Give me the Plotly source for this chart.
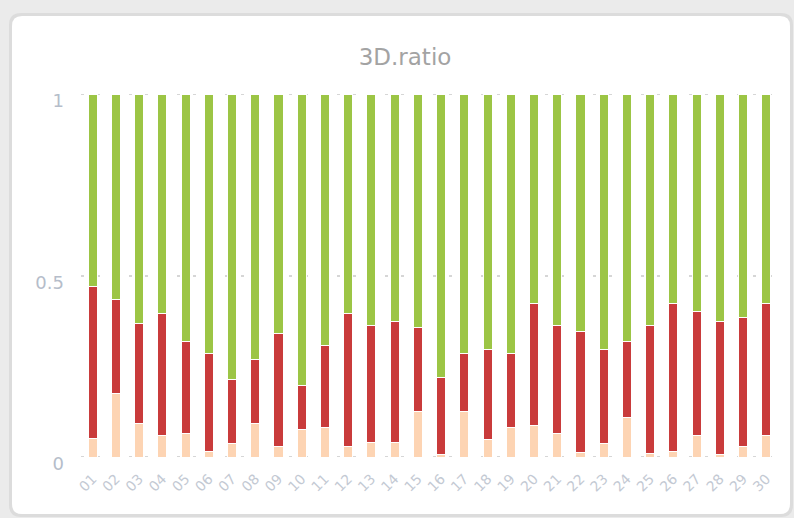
import plotly.graph_objects as go

# Daily categories
days = [f"{d:02d}" for d in range(1, 31)]

# Share of each class per day (peach + red + green = 1)
share_low = [0.052, 0.175, 0.092, 0.058, 0.065, 0.014, 0.037, 0.092, 0.030, 0.076,
             0.080, 0.030, 0.041, 0.041, 0.124, 0.006, 0.124, 0.048, 0.080, 0.086,
             0.065, 0.012, 0.037, 0.108, 0.009, 0.016, 0.058, 0.006, 0.030, 0.058]
share_mid = [0.419, 0.259, 0.276, 0.338, 0.252, 0.271, 0.177, 0.177, 0.310, 0.121,
             0.227, 0.366, 0.322, 0.332, 0.232, 0.212, 0.160, 0.248, 0.204, 0.337,
             0.298, 0.334, 0.259, 0.209, 0.354, 0.407, 0.342, 0.367, 0.355, 0.365]
share_high = [round(1 - a - b, 3) for a, b in zip(share_low, share_mid)]

y_ticks = [0, 0.5, 1]
y_tick_text = ["0", "0.5", "1"]

W, H = 794, 518
ML, MR, MT, MB = 81, 16, 94, 61
PW, PH = W - ML - MR, H - MT - MB

GRID_COLOR = "#d6d6d6"
GRID_DASH = "3px,13px"


def px(x):
    return (x - ML) / PW


def py(y):
    return (H - MB - y) / PH


def rounded_rect(x0, y0, x1, y1, r):
    """SVG path (paper units) for a rounded rectangle given in pixels."""
    rx, ry = r / PW, r / PH
    X0, X1, Y0, Y1 = px(x0), px(x1), py(y0), py(y1)
    return (f"M {X0 + rx},{Y0} L {X1 - rx},{Y0} Q {X1},{Y0} {X1},{Y0 - ry} "
            f"L {X1},{Y1 + ry} Q {X1},{Y1} {X1 - rx},{Y1} "
            f"L {X0 + rx},{Y1} Q {X0},{Y1} {X0},{Y1 + ry} "
            f"L {X0},{Y0 - ry} Q {X0},{Y0} {X0 + rx},{Y0} Z")


fig = go.Figure()
for vals, color in [(share_low, "#fdd4b3"), (share_mid, "#c93b3b"), (share_high, "#9cc545")]:
    fig.add_trace(go.Bar(
        x=days, y=vals,
        marker=dict(color=color, line=dict(color="white", width=1)),
        hoverinfo="x+y",
    ))

# dotted lines on the edge ticks (the axis grid skips the range limits)
edge_lines = [
    dict(type="line", xref="paper", yref="y", x0=0, x1=1, y0=v, y1=v, layer="below",
         line=dict(color=GRID_COLOR, width=2, dash=GRID_DASH))
    for v in (y_ticks[0], y_ticks[-1])
]

fig.update_layout(
    width=W, height=H,
    barmode="stack",
    bargap=0.61,
    showlegend=False,
    paper_bgcolor="#ebebeb",
    plot_bgcolor="rgba(0,0,0,0)",
    margin=dict(l=ML, r=MR, t=MT, b=MB, pad=0),
    font=dict(family="DejaVu Sans, Verdana, sans-serif"),
    title=dict(
        text="3D.ratio",
        x=px(405), xref="paper", xanchor="center",
        y=1 - 57 / H, yanchor="middle",
        font=dict(size=23, color="#a3a3a3", family="DejaVu Sans, Verdana, sans-serif"),
    ),
    shapes=[
        dict(type="path", xref="paper", yref="paper", layer="below",
             path=rounded_rect(9, 13, 793, 517, 12),
             fillcolor="#dcdcdc", line=dict(width=0)),
        dict(type="path", xref="paper", yref="paper", layer="below",
             path=rounded_rect(12, 16, 790, 514, 10),
             fillcolor="#ffffff", line=dict(width=0)),
    ] + edge_lines,
)

fig.update_xaxes(
    type="category",
    range=[-0.5, 29.5],
    showgrid=False, zeroline=False, showline=False, ticks="",
    tickangle=-45,
    ticklabelstandoff=10,
    tickfont=dict(size=14, color="#c3c9d3"),
)
fig.update_yaxes(
    range=[0, 1],
    tickvals=y_ticks, ticktext=y_tick_text,
    showgrid=True, gridcolor=GRID_COLOR, gridwidth=2, griddash=GRID_DASH,
    zeroline=False, showline=False, ticks="",
    ticklabelstandoff=16,
    ticklabelshift=7,
    tickfont=dict(size=18, color="#b5bdca"),
)

fig.write_html("out.html")
